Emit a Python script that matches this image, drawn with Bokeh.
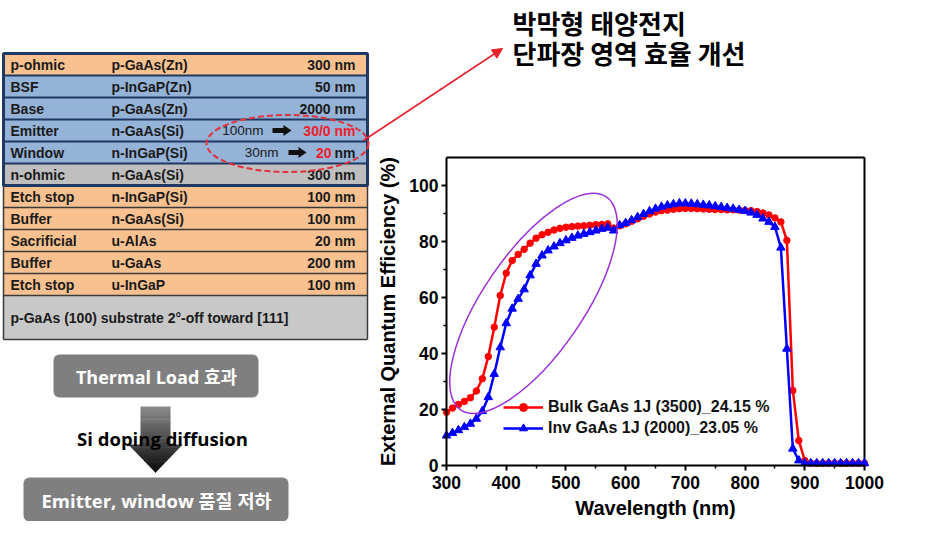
from bokeh.plotting import figure
from bokeh.models import (Range1d, Arrow, NormalHead, Legend, LegendItem,
                          LinearAxis, FixedTicker)
from bokeh.core.properties import value
from bokeh.embed import file_html
from bokeh.resources import INLINE

# ---------------- data ----------------
wavelength = [300, 310, 320, 330, 340, 350, 360, 370, 380, 390,
              400, 410, 420, 430, 440, 450, 460, 470, 480, 490,
              500, 510, 520, 530, 540, 550, 560, 570, 580, 590,
              600, 610, 620, 630, 640, 650, 660, 670, 680, 690,
              700, 710, 720, 730, 740, 750, 760, 770, 780, 790,
              800, 810, 820, 830, 840, 850, 860, 870, 880, 890,
              900, 910, 920, 930, 940, 950, 960, 970, 980, 990, 1000]
bulk_eqe = [19.0, 20.5, 21.8, 22.9, 24.2, 26.6, 31.0, 38.9, 49.4, 60.7,
            68.7, 73.2, 75.4, 77.2, 79.4, 81.2, 82.4, 83.3, 84.1, 84.7,
            85.1, 85.3, 85.5, 85.6, 85.8, 86.0, 86.1, 86.3, 84.8, 85.6,
            86.3, 87.2, 88.1, 89.0, 89.8, 90.5, 91.0, 91.2, 91.5, 91.7,
            91.8, 91.8, 91.7, 91.6, 91.5, 91.4, 91.4, 91.3, 91.3, 91.2,
            91.1, 91.0, 90.7, 90.2, 89.5, 88.4, 87.0, 80.4, 26.8, 8.9,
            1.8, 0.8, 0.8, 0.8, 0.8, 0.8, 0.8, 0.8, 0.8, 0.8, 0.8]
inv_eqe = [10.7, 11.6, 12.6, 13.7, 14.9, 16.7, 19.4, 24.4, 32.7, 42.2,
           50.8, 56.0, 59.5, 62.9, 67.9, 72.0, 75.0, 76.8, 78.2, 79.4,
           80.4, 81.3, 82.1, 82.7, 83.3, 83.9, 84.5, 84.9, 83.9, 85.8,
           86.6, 87.6, 88.7, 89.8, 90.8, 91.7, 92.4, 92.9, 93.3, 93.6,
           93.6, 93.5, 93.3, 93.1, 92.9, 92.6, 92.3, 92.0, 91.7, 91.3,
           90.9, 90.3, 89.5, 88.2, 87.0, 85.2, 77.8, 41.7, 6.0, 1.8,
           0.8, 0.8, 0.8, 0.8, 0.8, 0.8, 0.8, 0.8, 0.8, 0.8, 0.8]
series_labels = ["Bulk GaAs 1J (3500)_24.15 %", "Inv GaAs 1J (2000)_23.05 %"]
x_limits = (300, 1000)
y_limits = (0, 110)
x_ticks = [300, 400, 500, 600, 700, 800, 900, 1000]
x_minor = [350, 450, 550, 650, 750, 850, 950]
y_ticks = [0, 20, 40, 60, 80, 100]
y_minor = [10, 30, 50, 70, 90]

layer_names = ["p-ohmic", "BSF", "Base", "Emitter", "Window", "n-ohmic",
               "Etch stop", "Buffer", "Sacrificial", "Buffer", "Etch stop"]
layer_materials = ["p-GaAs(Zn)", "p-InGaP(Zn)", "p-GaAs(Zn)", "n-GaAs(Si)",
                   "n-InGaP(Si)", "n-GaAs(Si)", "n-InGaP(Si)", "n-GaAs(Si)",
                   "u-AlAs", "u-GaAs", "u-InGaP"]
layer_thickness = ["300 nm", "50 nm", "2000 nm", "", "", "300 nm",
                   "100 nm", "100 nm", "20 nm", "200 nm", "100 nm"]
layer_kind = ["p", "b", "b", "b", "b", "g", "p", "p", "p", "p", "p"]
substrate_label = "p-GaAs (100) substrate 2°-off toward [111]"
emitter_old, emitter_new = "100nm", "30/0 nm"
window_old, window_new, window_unit = "30nm", "20", "nm"

title_lines = ["박막형 태양전지", "단파장 영역 효율 개선"]
flow_top = "Thermal Load 효과"
flow_mid = "Si doping diffusion"
flow_bottom = "Emitter, window 품질 저하"

# ---------------- styles / layout ----------------
FONT = "Liberation Sans"
KFONT = "Noto Sans CJK KR"
MIXFONT = "Open Sans, Noto Sans CJK KR"
fill_map = {"p": "#F9C18F", "b": "#95B3D7", "g": "#BFBFBF"}
NAVY = "#1F3864"
RED = "#FF0000"
BLUE = "#0000FF"
W, H = 935, 521
# chart frame in canvas pixels
FX0, FX1, FY_BOT, FY_TOP = 446, 864, 465, 157

p = figure(width=W, height=H, x_range=Range1d(0, W), y_range=Range1d(H, 0),
           output_backend="svg", toolbar_location=None,
           x_axis_type=None, y_axis_type=None,
           min_border_left=0, min_border_right=0, min_border_top=0, min_border_bottom=0)
p.grid.visible = False
p.outline_line_color = None
p.background_fill_color = "white"
p.border_fill_color = "white"

kx = (FX1 - FX0) / (x_limits[1] - x_limits[0])
ky = (FY_BOT - FY_TOP) / (y_limits[1] - y_limits[0])
p.extra_x_ranges = {"wl": Range1d(x_limits[0] - FX0 / kx, x_limits[0] + (W - FX0) / kx)}
p.extra_y_ranges = {"eqe": Range1d(y_limits[0] - (H - FY_BOT) / ky, y_limits[0] + FY_BOT / ky)}

# ---------------- layer table ----------------
T_LEFT, T_RIGHT, T_TOP, RH = 3, 367, 53, 22
n = len(layer_names)
tops = [T_TOP + i * RH for i in range(n)]
bots = [t + RH for t in tops]
mids = [t + RH / 2 for t in tops]
p.quad(left=T_LEFT, right=T_RIGHT, top=tops, bottom=bots,
       fill_color=[fill_map[k] for k in layer_kind], line_color=None)
sub_top = bots[-1]
sub_bot = sub_top + 2 * RH
p.quad(left=[T_LEFT], right=[T_RIGHT], top=[sub_top], bottom=[sub_bot],
       fill_color="#C8C8C8", line_color=None)
p.segment(x0=T_LEFT, x1=T_RIGHT, y0=bots[6:], y1=bots[6:], line_color="#3A3A3A", line_width=1.5)
p.segment(x0=[T_LEFT, T_RIGHT, T_LEFT], x1=[T_LEFT, T_RIGHT, T_RIGHT],
          y0=[tops[6], tops[6], sub_bot], y1=[sub_bot, sub_bot, sub_bot],
          line_color="#3A3A3A", line_width=1.5)
p.segment(x0=T_LEFT, x1=T_RIGHT, y0=bots[:5], y1=bots[:5], line_color=NAVY, line_width=2)
p.quad(left=[T_LEFT], right=[T_RIGHT], top=[tops[0]], bottom=[bots[5]],
       fill_color=None, line_color=NAVY, line_width=3)

txt = dict(text_font=value(FONT), text_font_style="bold", text_font_size="14px",
           text_baseline="middle", text_color="#1A1A1A")
p.text(x=10, y=mids, text=layer_names, text_align="left", **txt)
p.text(x=111, y=mids, text=layer_materials, text_align="left", **txt)
p.text(x=355, y=mids, text=layer_thickness, text_align="right", **txt)
p.text(x=[10], y=[(sub_top + sub_bot) / 2], text=[substrate_label], text_align="left", **txt)

norm = dict(text_font=value(FONT), text_font_size="13.5px", text_baseline="middle",
            text_color="#1A1A1A", text_align="right")
p.text(x=[263], y=[mids[3]], text=[emitter_old], **norm)
p.text(x=[278], y=[mids[4]], text=[window_old], **norm)
p.text(x=[355], y=[mids[3]], text=[emitter_new], text_align="right",
       **{**txt, "text_color": "#F0202A"})
p.text(x=[355], y=[mids[4]], text=[window_unit], text_align="right", **txt)
p.text(x=[331], y=[mids[4]], text=[window_new], text_align="right",
       **{**txt, "text_color": "#F0202A"})


def block_arrow(x0, x1, yc):
    return ([x0, x1 - 8, x1 - 8, x1, x1 - 8, x1 - 8, x0],
            [yc - 2.5, yc - 2.5, yc - 5.5, yc, yc + 5.5, yc + 2.5, yc + 2.5])


a1 = block_arrow(272, 291, mids[3])
a2 = block_arrow(288, 306, mids[4])
p.patches(xs=[a1[0], a2[0]], ys=[a1[1], a2[1]], fill_color="#111111", line_color=None)

p.ellipse(x=[287], y=[143], width=[162], height=[57], width_units="screen",
          height_units="screen", fill_color=None, line_color="#E2323E",
          line_width=2, line_dash="6 3")

# ---------------- flowchart ----------------
p.quad(left=[53], right=[258], top=[354], bottom=[397], fill_color="#7F7F7F",
       line_color=None, border_radius=6)
p.quad(left=[23], right=[288], top=[477], bottom=[521], fill_color="#7F7F7F",
       line_color=None, border_radius=6)
S_TOP, H_TOP, TIP = 406, 444, 472
bands_x, bands_y, bands_c = [], [], []
edges = ([S_TOP + i * (H_TOP - S_TOP) / 12 for i in range(13)] +
         [H_TOP + i * (TIP - H_TOP) / 10 for i in range(1, 11)])


def hw(y):
    return 15 if y <= H_TOP else 27 * (TIP - y) / (TIP - H_TOP)


for ya, yb in zip(edges[:-1], edges[1:]):
    wa, wb = hw(ya), hw(yb)
    if abs(ya - H_TOP) < 1e-6:
        wa = 27
    bands_x.append([155 - wa, 155 + wa, 155 + wb, 155 - wb])
    bands_y.append([ya, ya, yb + 0.4, yb + 0.4])
    g = int(140 - 130 * ((ya + yb) / 2 - S_TOP) / (TIP - S_TOP))
    bands_c.append("#%02x%02x%02x" % (g, g, g))
p.patches(xs=bands_x, ys=bands_y, fill_color=bands_c, line_color=None)

p.text(x=[156], y=[376], text=[flow_top], text_font=value(MIXFONT), text_font_style="bold",
       text_font_size="18px", text_color="white", text_align="center", text_baseline="middle")
p.text(x=[162], y=[438], text=[flow_mid], text_font=value(MIXFONT), text_font_style="bold",
       text_font_size="18.5px", text_color="black", text_align="center", text_baseline="middle")
p.text(x=[156], y=[500], text=[flow_bottom], text_font=value(MIXFONT), text_font_style="bold",
       text_font_size="18.5px", text_color="white", text_align="center", text_baseline="middle")

# ---------------- title + pointer ----------------
p.text(x=[512, 512], y=[22, 52], text=title_lines, text_font=value(KFONT),
       text_font_style="bold", text_font_size="26px", text_color="black",
       text_align="left", text_baseline="middle")
p.add_layout(Arrow(x_start=363, y_start=140, x_end=502, y_end=48,
                   line_color="#E8202A", line_width=1.5,
                   end=NormalHead(size=10, fill_color="#E8202A", line_color="#E8202A")))

# ---------------- chart ----------------
CH = dict(x_range_name="wl", y_range_name="eqe")
xax = LinearAxis(fixed_location=y_limits[0], bounds=x_limits,
                 ticker=FixedTicker(ticks=x_ticks, minor_ticks=x_minor),
                 axis_label="Wavelength (nm)", **CH)
yax = LinearAxis(fixed_location=x_limits[0], bounds=y_limits,
                 ticker=FixedTicker(ticks=y_ticks, minor_ticks=y_minor),
                 axis_label="External Quantum Efficiency (%)", **CH)
for ax in (xax, yax):
    ax.axis_line_width = 2
    ax.axis_line_color = "black"
    ax.major_tick_line_width = 2
    ax.major_tick_out = 5
    ax.major_tick_in = 0
    ax.minor_tick_line_width = 1.5
    ax.minor_tick_out = 3
    ax.minor_tick_in = 0
    ax.major_label_text_font = FONT
    ax.major_label_text_font_style = "bold"
    ax.major_label_text_font_size = "17.5px"
    ax.major_label_text_color = "black"
    ax.axis_label_text_font = FONT
    ax.axis_label_text_font_style = "bold"
    ax.axis_label_text_font_size = "20px"
    ax.axis_label_text_color = "black"
xax.major_label_standoff = 5
yax.major_label_standoff = 3
xax.axis_label_standoff = 5
yax.axis_label_standoff = 7
p.add_layout(xax, "below")
p.add_layout(yax, "left")

# frame top / right edges
p.segment(x0=[x_limits[0], x_limits[1]], y0=[y_limits[1], y_limits[0]],
          x1=[x_limits[1], x_limits[1]], y1=[y_limits[1], y_limits[1]],
          line_color="black", line_width=2, **CH)

r_line = p.line(wavelength, bulk_eqe, line_color=RED, line_width=2.5, **CH)
r_pts = p.scatter(wavelength, bulk_eqe, marker="circle", size=6.5, fill_color=RED,
                  line_color=RED, **CH)
b_line = p.line(wavelength, inv_eqe, line_color=BLUE, line_width=2.5, **CH)
b_pts = p.scatter(wavelength, inv_eqe, marker="triangle", size=8.5, fill_color=BLUE,
                  line_color=BLUE, **CH)

p.ellipse(x=[445.7], y=[57.9], width=[258], height=[100], width_units="screen",
          height_units="screen", angle=0.970, fill_color=None,
          line_color="#9B30D9", line_width=1.5, **CH)

legend = Legend(items=[LegendItem(label=series_labels[0], renderers=[r_line, r_pts]),
                       LegendItem(label=series_labels[1], renderers=[b_line, b_pts])],
                location=(503, H - 438), padding=0, margin=0, spacing=1,
                glyph_width=40, glyph_height=20, label_height=20, label_standoff=5,
                label_text_font=FONT, label_text_font_style="bold",
                label_text_font_size="16px", label_text_color="#111111",
                background_fill_alpha=0, border_line_color=None)
p.add_layout(legend, "center")

open("out.html", "w").write(file_html(p, INLINE))
